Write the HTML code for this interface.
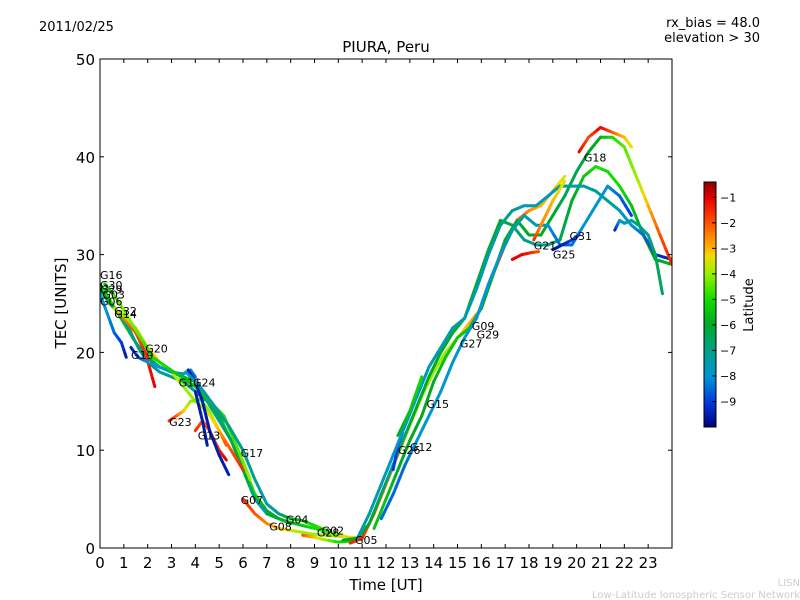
<!DOCTYPE html>
<html><head><meta charset="utf-8"><style>
body{margin:0;background:#fff;}
svg{display:block;font-family:"DejaVu Sans","Liberation Sans",sans-serif;}
</style></head><body>
<svg id="chart" width="800" height="600" viewBox="0 0 800 600">
<defs>
<linearGradient id="jet" x1="0" y1="1" x2="0" y2="0">
<stop offset="0" stop-color="#000080"/>
<stop offset="0.104" stop-color="#003cdc"/>
<stop offset="0.208" stop-color="#0096d2"/>
<stop offset="0.313" stop-color="#00a08c"/>
<stop offset="0.417" stop-color="#00aa28"/>
<stop offset="0.521" stop-color="#14dc00"/>
<stop offset="0.625" stop-color="#96f000"/>
<stop offset="0.698" stop-color="#f0dc00"/>
<stop offset="0.729" stop-color="#ffb400"/>
<stop offset="0.833" stop-color="#ff5000"/>
<stop offset="0.9375" stop-color="#e60000"/>
<stop offset="1" stop-color="#8c0000"/>
</linearGradient>
<clipPath id="pc"><rect x="100" y="59" width="572" height="489"/></clipPath>
</defs>
<text x="39" y="31" font-size="13">2011/02/25</text>
<text x="760" y="27" font-size="13" text-anchor="end">rx_bias = 48.0</text>
<text x="760" y="42" font-size="13" text-anchor="end">elevation &gt; 30</text>
<text x="386" y="52" font-size="15" text-anchor="middle">PIURA, Peru</text>
<text x="386" y="590" font-size="15" text-anchor="middle">Time [UT]</text>
<text transform="translate(66,303) rotate(-90)" font-size="15" text-anchor="middle">TEC [UNITS]</text>
<g id="tracks" clip-path="url(#pc)"></g>
<g id="labels"></g>
<rect x="100" y="59" width="572" height="489" fill="none" stroke="#000" stroke-width="1"/>
<g id="axes"></g>
<rect x="704" y="182" width="12" height="245" fill="url(#jet)" stroke="#000" stroke-width="1"/>
<g id="cbticks"></g>
<text transform="translate(753,305) rotate(-90)" font-size="13" text-anchor="middle">Latitude</text>
<text x="800" y="586" font-size="10" fill="#ccc" text-anchor="end">LISN</text>
<text x="800" y="598" font-size="10" fill="#ccc" text-anchor="end">Low-Latitude Ionospheric Sensor Network</text>
</svg>
<script>
const xTicks=[0,1,2,3,4,5,6,7,8,9,10,11,12,13,14,15,16,17,18,19,20,21,22,23];
const yTicks=[0,10,20,30,40,50];
const cbTicks=[-1,-2,-3,-4,-5,-6,-7,-8,-9];
const trackNames=["G16","G30","G06","G14","G14b","G19","G20","G23","G13","G24","G24b","G17","G07","G04","G02","G05","G15","G12","G09","G18","G27","G31","G29","G21","G32","G25","G11"];
const trackTimes=[
[0,0.5,1,1.5,2,2.5,3,3.5,4,4.5,5,5.5,6,6.5,7,7.5,8],
[0,0.4,0.8,1.2,1.6,2,2.5,3,3.5,4,4.5,5,5.5,6,6.5,7],
[0,0.3,0.6,0.9,1.1],
[0.6,1,1.5,1.9,2.3],
[0.6,1,1.5,2,2.5,3,3.5,4,4.5,5,5.5,6],
[1.3,1.6,2,2.5,3,3.5,3.8,4],
[0.2,0.7,1.2,1.7,2.2,2.8,3.4,4,4.6,5.2,5.8,6.3],
[2.9,3.2,3.5,3.8,4.2,4.6,5,5.3],
[4,4.3,4.6,5,5.3],
[3.7,4,4.3,4.6,5,5.4],
[4,4.3,4.5],
[3.6,4.2,4.8,5.4,6,6.5,7,7.5,8,8.5,9,9.5],
[6,6.5,7,7.5,8,8.5,9,10,11],
[7,7.5,8,8.5,9,9.5,10,10.5],
[8.5,9,9.5,10,10.5,11],
[10.5,11,11.5,12,12.5,13,13.5,14,14.5,15,15.5,16,16.5,17,17.5,18,18.5,19,19.5],
[10.2,10.8,11.3,11.8,12.3,12.8,13.3,13.8,14.3,14.8,15.3,15.8,16.3,16.8,17.3,17.8,18.3,18.8,19.3,19.8,20.3,20.8,21.3,21.8,22.3,22.8,23.3,24],
[12.3,12.5,12.7],
[10.8,11.3,11.8,12.3,12.8,13.3,13.8,14.3,14.8,15.3,15.8,16.3,16.8,17.3,17.8,18.3,18.8,19.3,19.8,20.3,20.8,21.3,21.8,22.3,22.8,23.3,24],
[20.1,20.5,21,21.5,22,22.3],
[11.5,12,12.5,13,13.5,14,14.5,15,15.5,16,16.5,17,17.5,18,18.5,19,19.5,20,20.5,21,21.5,22,22.5,23,23.5,24],
[11.8,12.3,12.8,13.3,13.8,14.3,14.8,15.3,15.8,16.3,16.8,17.3,17.8,18.3,18.8,19.3,19.8,20.3,20.8,21.3,21.8,22.3],
[21.6,21.8,22,22.3,22.6,23,23.3,23.6],
[18.2,18.5,19,19.5],
[17.3,17.7,18.1,18.4],
[19,19.4,19.8,20.1],
[12.5,13,13.5]
];
const trackTec=[
[27,25,23,21,19.5,18.5,18,17.5,17,15.5,13.5,11,8.5,5.5,3.8,3,2.5],
[26.5,25,24,22.5,20.5,19,18,17.5,17,16,15,13,11,8,5,3.5],
[26,24,22,21,19.5],
[24.5,23.5,22,20,16.5],
[24.5,23.8,22.5,20.5,19,18,16.5,15,14,12,10,8],
[20.5,19.5,19,18.5,18,17.8,18.2,17.5],
[27,25.5,23.5,21.5,19.5,18.5,17.5,16.5,15,13.5,10,7],
[13,13.5,14,15,15.2,14,12,10.5],
[12,13,12,10,9],
[18.2,17,15,12,9.5,7.5],
[16,13,10.5],
[18,16.5,14.5,12.5,10,7,4.5,3.5,3,2.8,2.3,1.8],
[5,3.5,2.5,2,1.8,1.6,1.4,1.2,1],
[3.5,3,2.6,2.3,2,1.7,1.4,1],
[1.3,1.1,0.8,0.6,0.7,1],
[0.5,1,3.5,6.5,9.5,12.5,15.5,18,20,21.5,23,24.5,28,31,33.5,34.5,35,36.5,38],
[0.8,1,2.5,5.5,8.5,11.5,14.5,17.5,20,22,23.5,27,30.5,33.5,33,31.5,31,31,31.5,35.5,38,39,38.5,37,35,32,29.5,29],
[8,10.5,11.8],
[1,3.5,6.5,9.5,12.5,15.5,18.5,20.5,22.5,23.5,26.5,30,33,34.5,35,35,36,37,37,37,36.5,35.5,34.5,33,32,30,29.5],
[40.5,42,43,42.5,42,41],
[2,5,8,11,13.5,17,19.5,21.5,22.5,24.5,28,31.5,33.5,32,32,34,36,38.5,40.5,42,42,41,38,35,32,29],
[3,5.5,8.5,11,13.5,16,19,21.5,23.5,27,30,32.5,34,33,33,31,31,33,35,37,36,34],
[32.5,33.5,33.2,33.5,33,32,30,26],
[31.5,33,35.5,37.5],
[29.5,30,30.2,30.3],
[30.5,31,31.5,32],
[11.5,14,17.5]
];
const trackLat=[
[-5,-5,-5.5,-6,-6,-6.5,-7,-6,-5,-5.5,-6,-5,-4.5,-5,-6,-6.5,-6],
[-6.5,-6,-6.5,-7,-7,-7,-7.5,-7,-6.5,-7,-7,-7,-6.5,-6,-7,-7.5],
[-8,-8,-8.5,-9,-9.5],
[-2,-2.5,-2,-1.5,-1],
[-3.5,-4,-4,-3.5,-3,-3.5,-4,-4,-3.5,-3,-2,-1.5],
[-9.5,-9,-8,-8,-7.5,-7.5,-8,-8.5],
[-5.5,-4.5,-4,-4.5,-5,-5,-5.5,-5.5,-5.5,-5,-4.5,-4],
[-1.5,-2,-3,-4,-4.5,-4,-3,-2],
[-1.5,-2,-2,-1.5,-1],
[-9.5,-9.5,-9.5,-9.5,-9.5,-9.5],
[-9.5,-9.5,-9.5],
[-8,-7.5,-7,-7,-7,-7,-7.5,-7,-6,-5.5,-5,-4.5],
[-1.5,-2,-2.5,-3,-3.5,-4,-4,-4,-3],
[-6,-6,-5.5,-5.5,-5,-5,-4,-3],
[-2,-3,-4,-5,-5,-6],
[-1.5,-1.5,-2,-2.5,-3,-3.5,-4,-4,-4,-3.5,-3,-2.5,-2,-2,-2,-2.5,-3,-3,-3.5],
[-6,-6,-6,-6.5,-7,-6.5,-6,-6,-6,-6,-6,-6,-6,-6,-6.5,-7,-7,-7,-6.5,-6,-5.5,-5,-5,-5,-5.5,-6,-6,-6],
[-9,-9,-9],
[-7.5,-7.5,-7.5,-8,-8,-8,-7.5,-7.5,-7.5,-7.5,-7.5,-7.5,-7,-7,-7.5,-7.5,-8,-7.5,-7.5,-7.5,-7,-7,-7.5,-8,-8.5,-9,-9.5],
[-1,-2,-1,-2,-3,-3.5],
[-5.5,-5.5,-6,-6,-6,-6,-5.5,-5.5,-5.5,-6,-6,-6,-6,-6,-6,-6,-6.5,-6.5,-6,-6,-5,-4.5,-4,-3,-2,-1.5],
[-8.5,-8.5,-8.5,-8,-8,-8,-8,-8,-8,-8,-8,-7.5,-7.5,-7.5,-8,-8.5,-8.5,-8,-8,-8,-8.5,-9],
[-9.5,-8,-7.5,-7.5,-7,-7,-6.5,-6.5],
[-1.5,-2.5,-3,-3.5],
[-1,-1,-1.5,-2],
[-9.5,-9.5,-9,-9],
[-6,-5.5,-5]
];
const labelNames=["G16","G30","G29","G03","G06","G32","G14","G20","G19","G11","G24","G23","G13","G17","G07","G04","G08","G02","G28","G05","G26","G12","G15","G09","G29","G27","G21","G25","G31","G18"];
const labelTimes=[0,0,0,0.1,0,0.6,0.6,1.9,1.3,3.3,3.9,2.9,4.1,5.9,5.9,7.8,7.1,9.3,9.1,10.7,12.5,13.0,13.7,15.6,15.8,15.1,18.2,19.0,19.7,20.3];
const labelTec=[27.5,26.5,26,25.5,24.8,23.8,23.5,20.0,19.3,16.5,16.5,12.5,11.1,9.3,4.5,2.5,1.8,1.4,1.2,0.4,9.6,9.9,14.3,22.3,21.4,20.5,30.5,29.6,31.5,39.5];
const cmLat=[-10,-9,-8,-7,-6,-5,-4,-3.3,-3,-2,-1,-0.4];
const cmRGB=[[0,0,128],[0,60,220],[0,150,210],[0,160,140],[0,170,40],[20,220,0],[150,240,0],[240,220,0],[255,180,0],[255,80,0],[230,0,0],[140,0,0]];
function X(t){return 100+t*572/24;}
function Y(v){return 548-v*489/50;}
function jet(lat){
 lat=Math.max(-10,Math.min(-0.4,lat));
 let i=0;while(i<cmLat.length-2&&lat>cmLat[i+1])i++;
 const f=(lat-cmLat[i])/(cmLat[i+1]-cmLat[i]);
 const c=j=>Math.round(cmRGB[i][j]+(cmRGB[i+1][j]-cmRGB[i][j])*f);
 return `rgb(${c(0)},${c(1)},${c(2)})`;}
const NS="http://www.w3.org/2000/svg";
const tg=document.getElementById('tracks');
trackTimes.forEach((ts,k)=>{
 const g=document.createElementNS(NS,'g');
 
 
 for(let i=0;i<ts.length-1;i++){
  const n=4;
  for(let s=0;s<n;s++){
   const a=s/n,b=(s+1)/n;
   const t1=ts[i]+(ts[i+1]-ts[i])*a,t2=ts[i]+(ts[i+1]-ts[i])*b;
   const v1=trackTec[k][i]+(trackTec[k][i+1]-trackTec[k][i])*a,v2=trackTec[k][i]+(trackTec[k][i+1]-trackTec[k][i])*b;
   const la=trackLat[k][i]+(trackLat[k][i+1]-trackLat[k][i])*(a+b)/2;
   const l=document.createElementNS(NS,'line');
   l.setAttribute('x1',X(t1));l.setAttribute('y1',Y(v1));l.setAttribute('x2',X(t2));l.setAttribute('y2',Y(v2));
   l.setAttribute('stroke',jet(la));l.setAttribute('stroke-width','3');l.setAttribute('stroke-linecap','round');
   
   
   g.appendChild(l);
  }
 }
 tg.appendChild(g);
});
const lg=document.getElementById('labels');
labelNames.forEach((n,i)=>{
 const t=document.createElementNS(NS,'text');
 t.setAttribute('x',X(labelTimes[i]));t.setAttribute('y',Y(labelTec[i]));
 t.setAttribute('font-size','11');t.textContent=n;
 
 
 lg.appendChild(t);
});
const ax=document.getElementById('axes');
function add(tag,attrs,txt){const e=document.createElementNS(NS,tag);for(const k in attrs)e.setAttribute(k,attrs[k]);if(txt!==undefined)e.textContent=txt;ax.appendChild(e);return e;}
xTicks.forEach(t=>{
 const x=X(t);
 const a=add('line',{x1:x,y1:548,x2:x,y2:544,stroke:'#000'});
 
 
 const b=add('line',{x1:x,y1:59,x2:x,y2:63,stroke:'#000'});
 
 
 const l=add('text',{x:x,y:568,'font-size':'15','text-anchor':'middle'},String(t));
 
 
});
yTicks.forEach(v=>{
 const y=Y(v);
 const a=add('line',{x1:100,y1:y,x2:104,y2:y,stroke:'#000'});
 
 
 const b=add('line',{x1:672,y1:y,x2:668,y2:y,stroke:'#000'});
 
 
 const l=add('text',{x:95,y:y+6,'font-size':'15','text-anchor':'end'},String(v));
 
 
});
const cb=document.getElementById('cbticks');
cbTicks.forEach(v=>{
 const y=182+(-0.4-v)*245/9.6;
 const l=document.createElementNS(NS,'line');
 l.setAttribute('x1',712);l.setAttribute('x2',716);l.setAttribute('y1',y);l.setAttribute('y2',y);l.setAttribute('stroke','#000');
 
 
 cb.appendChild(l);
 const t=document.createElementNS(NS,'text');
 t.setAttribute('x',720);t.setAttribute('y',y+4);t.setAttribute('font-size','11');t.textContent='\u2212'+(-v);
 
 
 cb.appendChild(t);
});
</script>
</body></html>
